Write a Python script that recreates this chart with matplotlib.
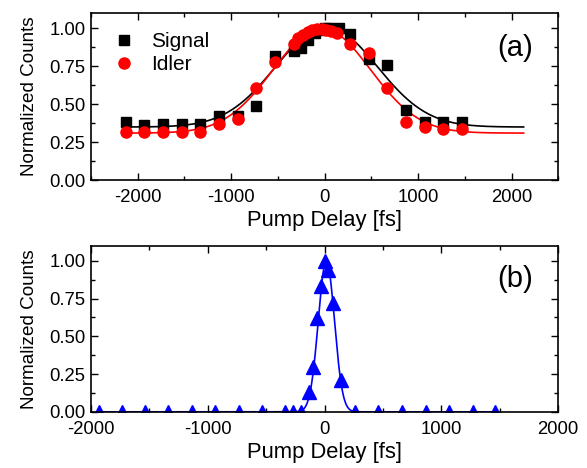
import numpy as np
import matplotlib.pyplot as plt
from matplotlib.ticker import MultipleLocator

plt.rcParams['font.family'] = ['Liberation Sans', 'DejaVu Sans']
plt.rcParams['axes.unicode_minus'] = False

# panel (a) data
sig_x = [-2130, -1930, -1730, -1530, -1330, -1130, -930, -730, -530, -330, -250, -180,
         -100, -50, 0, 50, 150, 270, 470, 670, 870, 1070, 1270, 1470]
sig_y = [0.385, 0.365, 0.37, 0.37, 0.37, 0.42, 0.42, 0.49, 0.82, 0.85, 0.87, 0.92,
         0.97, 0.99, 1.0, 1.0, 1.0, 0.96, 0.80, 0.76, 0.46, 0.385, 0.385, 0.38]
idl_x = [-2130, -1930, -1730, -1530, -1330, -1130, -930, -730, -530, -330, -280, -230,
         -180, -130, -80, -30, 20, 70, 130, 270, 470, 670, 870, 1070, 1270, 1470]
idl_y = [0.316, 0.32, 0.32, 0.32, 0.32, 0.37, 0.40, 0.61, 0.775, 0.895, 0.935, 0.955,
         0.975, 0.99, 0.995, 0.995, 0.99, 0.985, 0.97, 0.895, 0.84, 0.61, 0.38, 0.35, 0.34, 0.34]

# gaussian fit parameters (baseline, amplitude, centre, sigma)
sig_fit = (0.35, 0.66, 20, 540)
idl_fit = (0.31, 0.69, -30, 520)

# panel (b) data
b_x = [-1934, -1737, -1537, -1337, -1137, -937, -737, -537, -337, -271, -200, -137,
       -100, -66, -34, 0, 31, 71, 137, 260, 460, 660, 869, 1069, 1269, 1460]
b_y = [0, 0, 0, 0, 0, 0, 0, 0, 0, 0, 0, 0.13,
       0.30, 0.62, 0.83, 1.0, 0.94, 0.72, 0.21, 0, 0, 0, 0, 0, 0, 0]
b_fit = (0.0, 1.0, 15, 69)


def gauss(x, p):
    y0, a, xc, w = p
    return y0 + a * np.exp(-(x - xc) ** 2 / (2 * w ** 2))


def style_ax(ax, xmaj, xmin):
    ax.xaxis.set_major_locator(MultipleLocator(xmaj))
    ax.xaxis.set_minor_locator(MultipleLocator(xmin))
    ax.yaxis.set_major_locator(MultipleLocator(0.25))
    ax.yaxis.set_minor_locator(MultipleLocator(0.125))
    ax.yaxis.set_major_formatter(plt.FormatStrFormatter('%.2f'))
    ax.tick_params(which='both', direction='in', top=True, right=True, labelsize=13.3, width=1)
    ax.tick_params(which='major', length=5)
    ax.tick_params(axis='x', pad=6.3)
    ax.tick_params(axis='y', pad=4)
    ax.tick_params(which='minor', length=3)
    for s in ax.spines.values():
        s.set_linewidth(1.2)
    ax.set_ylim(0, 1.1)
    ax.set_ylabel('Normalized Counts', fontsize=13.6, labelpad=8)
    ax.set_xlabel('Pump Delay [fs]', fontsize=15.8, labelpad=3)


fig = plt.figure(figsize=(5.87, 4.68), dpi=100)
ax1 = fig.add_axes([0.155, 0.615, 0.796, 0.357])
ax2 = fig.add_axes([0.155, 0.120, 0.796, 0.355])

xx = np.linspace(-2130, 2130, 400)
ax1.plot(xx, gauss(xx, sig_fit), color='black', lw=1.2)
ax1.plot(xx, gauss(xx, idl_fit), color='red', lw=1.2)
ax1.plot(sig_x, sig_y, 's', color='black', ms=7.2, label='Signal')
ax1.plot(idl_x, idl_y, 'o', color='red', ms=8, label='Idler')
ax1.set_xlim(-2500, 2500)
style_ax(ax1, 1000, 500)
ax1.legend(loc='upper left', frameon=False, fontsize=15, handlelength=1.5,
           handletextpad=0.55, borderaxespad=0.5, labelspacing=0.2,
           bbox_to_anchor=(-0.003, 1.0))
ax1.text(0.946, 0.79, '(a)', transform=ax1.transAxes, fontsize=21, ha='right', va='center')

xb = np.linspace(-1934, 1470, 800)
ax2.plot(xb, gauss(xb, b_fit), color='blue', lw=1.2)
ax2.plot(b_x, b_y, '^', color='blue', ms=9.5)
ax2.set_xlim(-2000, 2000)
style_ax(ax2, 1000, 500)
ax2.text(0.946, 0.8, '(b)', transform=ax2.transAxes, fontsize=21, ha='right', va='center')

fig.savefig('out.png', dpi=100)
